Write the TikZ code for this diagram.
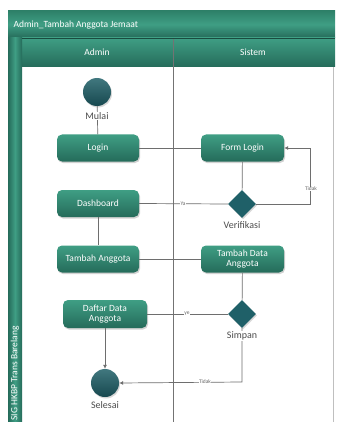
\documentclass[tikz,border=0pt]{standalone}
\usepackage{fontspec}
\setmainfont{Carlito}
\usetikzlibrary{arrows.meta,shapes.geometric,shadows}
\definecolor{tealA}{HTML}{3F9E84}
\definecolor{tealB}{HTML}{256B5A}
\definecolor{tealC}{HTML}{2E8169}
\definecolor{darkteal}{HTML}{1F6068}
\definecolor{darktealB}{HTML}{17484F}
\definecolor{linegray}{HTML}{6E6E6E}
\begin{document}
\begin{tikzpicture}[x=1pt,y=-1pt,
  act/.style={rectangle,rounded corners=5pt,minimum width=82pt,minimum height=27pt,
    top color=tealA,bottom color=tealB,draw=none,text=white,font=\fontsize{9.5}{10.5}\selectfont,
    align=center,inner sep=1pt,
    drop shadow={opacity=0.35,shadow xshift=1pt,shadow yshift=-1.5pt}},
  endpoint/.style={circle,minimum size=28pt,inner sep=0pt,draw=none,
    top color=darkteal!85!white,bottom color=darktealB,
    drop shadow={opacity=0.3,shadow xshift=1pt,shadow yshift=-1.5pt}},
  decide/.style={diamond,minimum width=28pt,minimum height=28pt,inner sep=0pt,draw=none,
    fill=darkteal,drop shadow={opacity=0.3,shadow xshift=1pt,shadow yshift=-1.5pt}},
  caption/.style={text=black!70,font=\fontsize{10}{11}\selectfont,fill=white,inner sep=0.5pt},
  guard/.style={text=black!60,font=\fontsize{5.5}{6}\selectfont,fill=white,inner sep=0.5pt},
  flow/.style={draw=linegray,line width=0.7pt},
  flowarrow/.style={flow,-{Latex[length=4pt,width=4pt]}},
  lanehead/.style={text=white,font=\fontsize{9.5}{10.5}\selectfont}]
\useasboundingbox (0,0) rectangle (337,422);

% swimlane frame
\fill[white] (22,67) rectangle (333,422);
\draw[black!25,line width=0.6pt] (333,67) -- (333,422);
\shade[top color=tealC,bottom color=tealB,middle color=tealA] (8,11) rectangle (335,38);
\shade[top color=tealA,bottom color=tealB] (22,38) rectangle (335,67);
\shade[left color=tealB,right color=tealB,middle color=tealA] (8,38) rectangle (22,422);
\draw[black!55,line width=0.8pt] (173,38) -- (173,422);
\draw[tealB!70!black,line width=0.4pt] (22,38) -- (335,38);

\node[anchor=west,text=white,font=\fontsize{9.5}{10.5}\selectfont] (title) at (10,25) {Admin\_Tambah Anggota Jemaat};
\node[lanehead] (hadmin) at (97,52) {Admin};
\node[lanehead] (hsistem) at (253,52) {Sistem};
\node[rotate=90,anchor=west,text=white,font=\fontsize{9.5}{10.5}\selectfont] (org) at (15,424) {SIG HKBP Trans Barelang};

% activities
\node[endpoint] (start) at (97,92) {};
\node[act] (login) at (98,148) {Login};
\node[act,minimum width=83pt] (formlogin) at (242.5,148) {Form Login};
\node[decide] (verif) at (242,204) {};
\node[act] (dash) at (98,203.5) {Dashboard};
\node[act] (tambah) at (98,259) {Tambah Anggota};
\node[act,minimum width=83pt] (tdata) at (242.5,259) {Tambah Data\\Anggota};
\node[decide] (simpan) at (242,314) {};
\node[act,minimum width=84pt,minimum height=28pt] (daftar) at (105,314) {Daftar Data\\Anggota};
\node[endpoint] (stop) at (105,383) {};

% connectors
\draw[flow] (start) -- (login);
\draw[flow] (login) -- (formlogin);
\draw[flow] (formlogin) -- (verif);
\coordinate (loopA) at (310,204);
\coordinate (loopB) at (310,148);
\draw[flowarrow] (verif.east) -- (loopA) -- (loopB) -- (formlogin.east);
\draw[flow] (verif.west) -- (dash.east);
\draw[flow] (dash) -- (tambah);
\draw[flow] (tambah) -- (tdata);
\draw[flow] (tdata) -- (simpan);
\draw[flow] (simpan.west) -- (daftar.east);
\draw[flowarrow] (daftar) -- (stop);
\coordinate (backA) at (242,382);
\draw[flowarrow] (simpan.south) -- (backA) -- (stop.east);

% captions
\node[caption] (lmulai) at (97,116) {Mulai};
\node[caption] (lverif) at (242,225) {Verifikasi};
\node[caption] (lsimpan) at (242,336) {Simpan};
\node[caption] (lselesai) at (105,405) {Selesai};
\node[guard] (gtidak1) at (311,189) {Tidak};
\node[guard] (gya) at (183,204) {Ya};
\node[guard] (gye) at (187,314) {ye};
\node[guard] (gtidak2) at (205,382) {Tidak};
\end{tikzpicture}
\end{document}
